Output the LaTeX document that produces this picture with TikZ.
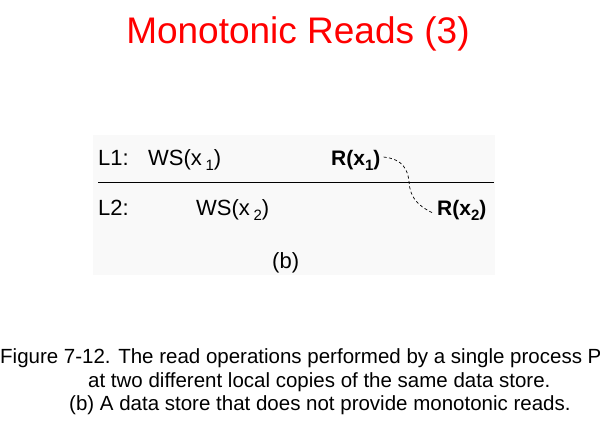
\documentclass[tikz,border=0pt]{standalone}
\usepackage{fontspec}
\setmainfont{Liberation Sans}
\begin{document}
\begin{tikzpicture}[x=1pt,y=-1pt,
  lbl/.style={anchor=base west,inner sep=0pt,font=\fontsize{22}{24}\selectfont},
  blbl/.style={lbl,font=\fontsize{21}{24}\selectfont\bfseries},
  captext/.style={anchor=base west,inner sep=0pt,font=\fontsize{20.5}{24}\selectfont}]
\newcommand{\sbx}[1]{\raisebox{-0.25em}{\fontsize{15}{15}\selectfont #1}}
\useasboundingbox (0,0) rectangle (600,424);
\fill[white] (0,0) rectangle (600,424);
\fill[black!2.5] (93,135) rectangle (495,275);
\node[anchor=base,inner sep=0pt,text=red,font=\fontsize{37}{42}\selectfont] (title) at (298,43) {Monotonic Reads (3)};
\node[lbl] (l1) at (98,165) {L1:};
\node[lbl] (ws1) at (148,165) {WS(x\,\sbx{1})};
\node[blbl] (r1) at (331,165) {R(x\sbx{1})};
\node[lbl] (l2) at (98,215) {L2:};
\node[lbl] (ws2) at (196,215) {WS(x\,\sbx{2})};
\node[blbl] (r2) at (437,215) {R(x\sbx{2})};
\coordinate (la) at (98,182);
\coordinate (lb) at (494,182);
\draw[line width=0.9pt] (la) -- (lb);
\draw[dash pattern=on 3pt off 2.5pt,line width=0.7pt] ([xshift=3pt,yshift=3pt]r1.east) .. controls (403,159) and (408,170) .. (409,182)
   .. controls (410,196) and (416,205) .. ([xshift=-4pt,yshift=-3pt]r2.west);
\node[lbl] (b) at (272,268) {(b)};
\node[captext] (c1) at (0,363) {Figure 7-12. The read operations performed by a single process P};
\node[captext] (c2) at (88,387) {at two different local copies of the same data store.};
\node[captext] (c3) at (69,410) {(b) A data store that does not provide monotonic reads.};
\end{tikzpicture}
\end{document}
